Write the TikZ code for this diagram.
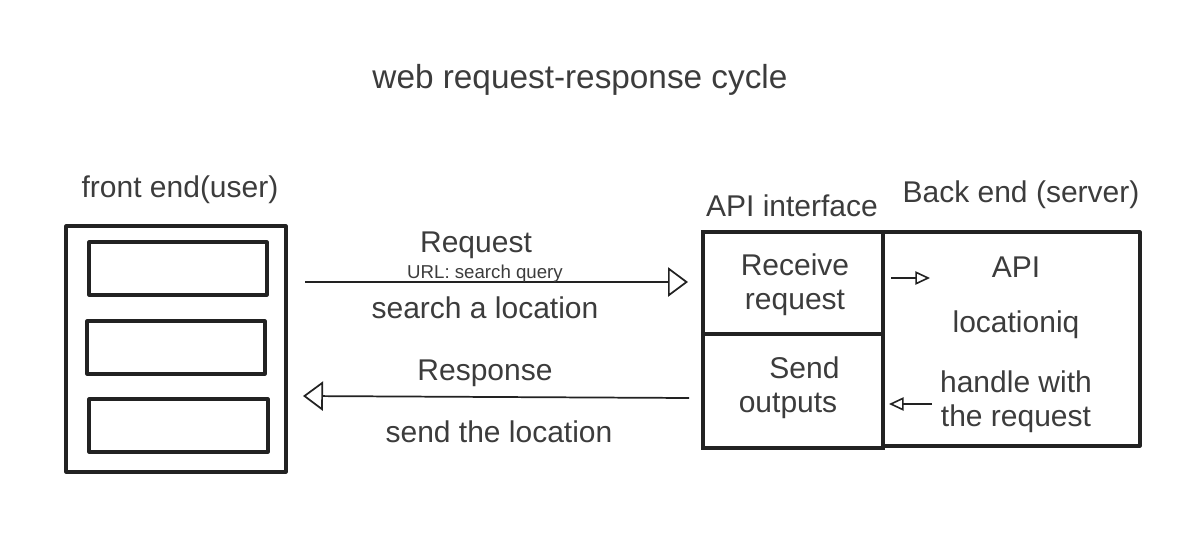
\documentclass[tikz,border=0pt]{standalone}
\usepackage{fontspec}
\setmainfont{Liberation Sans}
\usetikzlibrary{arrows.meta}
\definecolor{txt}{HTML}{3C3C3C}
\definecolor{ln}{HTML}{222222}
\tikzset{
  box/.style={draw=ln, line width=2.3pt, line join=round},
  thickbox/.style={draw=ln, line width=3pt},
  lbl/.style={text=txt, inner sep=0pt, font=\fontsize{22.5}{26}\selectfont, align=center, yshift=-2pt},
  smalllbl/.style={text=txt, inner sep=0pt, font=\fontsize{14}{16}\selectfont, yshift=-1.5pt},
  bigarrow/.style={draw=ln, line width=1.3pt, -{Triangle[open, length=15pt, width=22pt, line width=1.3pt]}},
  smallarrow/.style={draw=ln, line width=1.2pt, -{Triangle[open, length=11pt, width=10pt, line width=1.2pt]}},
}
\begin{document}
\begin{tikzpicture}[x=0.75pt, y=-0.75pt]
\useasboundingbox (0,0) rectangle (1197,553);
% title
\node[lbl, font=\fontsize{25}{30}\selectfont] (title) at (580,77) {web request-response cycle};
% front end
\node[lbl] (felbl) at (180,187) {front end(user)};
\draw[box] (66,226) rectangle (286,472);
\draw[box] (89,242) rectangle (267,295);
\draw[box] (87,321) rectangle (265,374);
\draw[box] (89,399) rectangle (268,452);
\coordinate (feR1) at (305,282);
\coordinate (feR2) at (303,396);
% API interface
\node[lbl] (apilbl) at (792,203) {API interface};
\node[lbl] (belbl) at (1021,192) {Back end (server)};
\draw[box] (883,232) rectangle (1140,446);
\draw[thickbox] (703,232) rectangle (883,448);
\draw[thickbox] (703,334) -- (883,334);
\node[lbl] (recv) at (795,282) {Receive\\request};
\node[lbl] (send) at (788,385) {\hspace*{1.1em}Send\\outputs};
\coordinate (apiL1) at (688,282);
\coordinate (apiL2) at (689,398);
% backend
\node[lbl] (api) at (1016,265) {API};
\node[lbl] (liq) at (1016,322) {locationiq};
\node[lbl] (handle) at (1016,399) {handle with\\the request};
\coordinate (r1) at (891,278);
\coordinate (r2) at (930,278);
\coordinate (h1) at (932,404);
\coordinate (h2) at (889,404);
% arrows
\draw[bigarrow] (feR1) -- (apiL1);
\draw[bigarrow] (apiL2) -- (feR2);
\draw[smallarrow] (r1) -- (r2);
\draw[smallarrow] (h1) -- (h2);
% labels
\node[lbl] (req) at (476,243) {Request};
\node[smalllbl] (url) at (485,272) {URL: search query};
\node[lbl] (sal) at (485,305) {search a location};
\node[lbl] (resp) at (485,371) {Response};
\node[lbl] (stl) at (499,429) {send the location};
\end{tikzpicture}
\end{document}
